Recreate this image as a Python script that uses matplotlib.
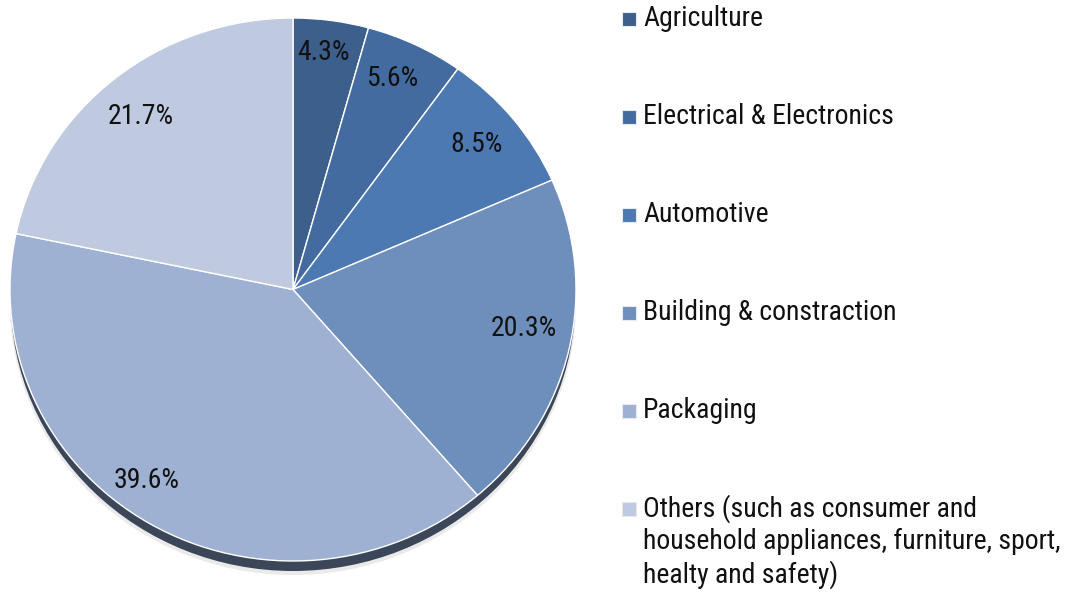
import matplotlib
matplotlib.use("Agg")
import matplotlib.pyplot as plt
from matplotlib.patches import Ellipse, Rectangle

# Plastic demand by end-use sector (share, %)
sectors = [
    "Agriculture",
    "Electrical & Electronics",
    "Automotive",
    "Building & constraction",
    "Packaging",
    "Others (such as consumer and\nhousehold appliances, furniture, sport,\nhealty and safety)",
]
shares = [4.3, 5.6, 8.5, 20.3, 39.6, 21.7]
colors = ["#3d5f8b", "#446ba0", "#4c79b2", "#6e8fbc", "#9fb1d2", "#bfcae0"]

FONT = ["Roboto Condensed", "Archivo Narrow", "PT Sans Narrow",
        "Encode Sans Condensed", "DejaVu Sans"]
FS = 20
W, H = 1074, 592

fig = plt.figure(figsize=(W / 100, H / 100), dpi=100)

# pie face occupies an ellipse (slightly tilted 3-D look)
x0, x1 = 10, 576
y0, y1 = 18, 561
ax = fig.add_axes([x0 / W, 1 - y1 / H, (x1 - x0) / W, (y1 - y0) / H])
ry_px = (y1 - y0) / 2

wedges, _ = ax.pie(shares, colors=colors, startangle=90, counterclock=False,
                   radius=1.0, center=(0, 0), frame=False,
                   wedgeprops=dict(edgecolor="white", linewidth=1.0))
for w in wedges:
    w.set_zorder(2)
    w.set_clip_on(False)

# soft shadow and dark side rim below the face
ax.add_patch(Ellipse((0.0, -14 / ry_px), 2.0, 2.0, facecolor="#d6d6d6",
                     edgecolor="none", alpha=0.5, zorder=0, clip_on=False))
ax.add_patch(Ellipse((0.0, -10 / ry_px), 1.995, 2.0, facecolor="#3b4659",
                     edgecolor="none", zorder=1, clip_on=False))

ax.set_aspect("auto")
ax.set_xlim(-1, 1)
ax.set_ylim(-1, 1)
ax.axis("off")

# percentage labels (pixel positions of label centres)
label_px = [(323, 52), (392, 78), (477, 145), (524, 328), (147, 481), (141, 117)]
for v, (px, py) in zip(shares, label_px):
    fig.text(px / W, 1 - py / H, f"{v:.1f}%", ha="center", va="center",
             fontsize=FS, family=FONT, color="#111111")

# legend
leg_x = 622
leg_y = [19, 117, 215, 313, 411, 509]
sq = 14
for lab, c, yy in zip(sectors, colors, leg_y):
    fig.patches.append(Rectangle((leg_x / W, 1 - (yy + sq / 2) / H), sq / W, sq / H,
                                 transform=fig.transFigure, facecolor=c,
                                 edgecolor="#e6e9ef", linewidth=0.8))
    if "\n" in lab:
        fig.text(643 / W, 1 - (yy - 15) / H, lab, ha="left", va="top",
                 fontsize=FS, family=FONT, color="#111111", linespacing=1.25)
    else:
        fig.text(643 / W, 1 - yy / H, lab, ha="left", va="center",
                 fontsize=FS, family=FONT, color="#111111")

fig.savefig("out.png", dpi=100, facecolor="white")
